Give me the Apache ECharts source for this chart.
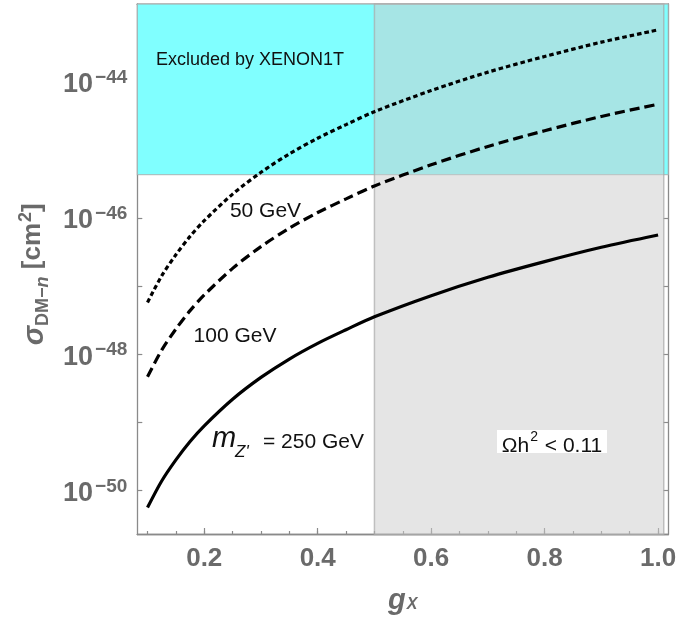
<!DOCTYPE html>
<html>
<head>
<meta charset="utf-8">
<script src="https://cdn.jsdelivr.net/npm/echarts@6/dist/echarts.min.js"></script>
<style>
  html, body { margin: 0; padding: 0; background: #fff; }
  #chart { width: 680px; height: 628px; }
</style>
</head>
<body>
<div id="chart"></div>
<script>
// ---- data ----
const gX = [0.1, 0.125, 0.15, 0.175, 0.2, 0.25, 0.3, 0.35, 0.4, 0.45, 0.5, 0.6, 0.7, 0.8, 0.9, 1.0];
// log10 of sigma_DM-n in cm^2
const logSigma50GeV  = [-47.24, -46.85, -46.54, -46.27, -46.04, -45.65, -45.33, -45.06, -44.83, -44.63, -44.44, -44.13, -43.86, -43.63, -43.42, -43.24];
const logSigma100GeV = [-48.33, -47.94, -47.63, -47.36, -47.13, -46.74, -46.42, -46.15, -45.92, -45.72, -45.53, -45.22, -44.95, -44.72, -44.51, -44.33];
const logSigma250GeV = [-50.25, -49.86, -49.55, -49.28, -49.05, -48.66, -48.34, -48.07, -47.84, -47.64, -47.45, -47.14, -46.87, -46.64, -46.43, -46.25];
const xenonLimitLog = -45.365;        // XENON1T exclusion boundary
const relicRegionG = [0.5, 1.01];     // Omega h^2 < 0.11 region in g_X
const xMajorTicks = [0.2, 0.4, 0.6, 0.8, 1.0];
const xMinorTicks = [0.1, 0.15, 0.2, 0.25, 0.3, 0.35, 0.4, 0.45, 0.5, 0.55, 0.6, 0.65, 0.7, 0.75, 0.8, 0.85, 0.9, 0.95, 1.0];
const yTicks = [-50, -49, -48, -47, -46, -45, -44, -43];
const yLabelTicks = [-50, -48, -46, -44];
const xRange = [0.082, 1.018];
const yRange = [-50.645, -42.86];

const AX = '#8a8a8a';
const LBL = '#6a6a6a';
const FONT = '"Liberation Sans", Arial, Helvetica, sans-serif';

const chart = echarts.init(document.getElementById('chart'), null, { renderer: 'canvas' });

function xAx(grid, pos, ticks, len, labels) {
  return {
    type: 'value', gridIndex: grid, position: pos, min: xRange[0], max: xRange[1],
    axisLine: { show: true, onZero: false, lineStyle: { color: AX, width: 1.3 } },
    axisTick: { show: true, inside: true, length: len, customValues: ticks, lineStyle: { color: AX, width: 1.2 } },
    axisLabel: labels ? {
      show: true, customValues: xMajorTicks, margin: 11.5,
      formatter: v => v.toFixed(1),
      fontFamily: FONT, fontWeight: 'bold', fontSize: 26, lineHeight: 26, color: LBL
    } : { show: false },
    splitLine: { show: false }
  };
}
function yAx(grid, pos, labels, show) {
  return {
    type: 'value', gridIndex: grid, position: pos, min: yRange[0], max: yRange[1], show: show,
    axisLine: { show: true, onZero: false, lineStyle: { color: AX, width: 1.3 } },
    axisTick: { show: true, inside: true, length: 5, customValues: yTicks, lineStyle: { color: AX, width: 1.2 } },
    axisLabel: labels ? {
      show: true, customValues: yLabelTicks, margin: 10,
      formatter: v => '{b|10}{s|\u2212' + Math.abs(v) + '}',
      rich: {
        b: { fontFamily: FONT, fontWeight: 'bold', fontSize: 27, lineHeight: 27, color: LBL, verticalAlign: 'top', padding: [3, 0, 0, 0] },
        s: { fontFamily: FONT, fontWeight: 'bold', fontSize: 19, lineHeight: 19, color: LBL, verticalAlign: 'top', padding: [0, 0, 0, 2] }
      }
    } : { show: false },
    splitLine: { show: false }
  };
}

const gridRect = { left: 137.3, top: 4, right: 11.7, bottom: 93.5, containLabel: false, outerBoundsMode: 'none' };

const xMain = xAx(0, 'bottom', xMajorTicks, 6.5, true);
xMain.name = '{g|g}{x|X}';
xMain.nameLocation = 'middle';
xMain.nameGap = 51.5;
xMain.nameTextStyle = {
  rich: {
    g: { fontFamily: FONT, fontWeight: 'bold', fontStyle: 'italic', fontSize: 29, lineHeight: 29, color: LBL, verticalAlign: 'top' },
    x: { fontFamily: FONT, fontWeight: 'bold', fontStyle: 'italic', fontSize: 16, lineHeight: 16, color: LBL, verticalAlign: 'top', padding: [11, 0, 0, 1] }
  }
};

const yMain = yAx(0, 'left', true, true);
yMain.name = '{sig|\u03c3}{sub|DM\u2212}{subi|n}{t| [cm}{sup|2}{last|]}';
yMain.nameLocation = 'middle';
yMain.nameRotate = 90;
yMain.nameGap = 90.5;
yMain.nameTextStyle = {
  rich: {
    sig: { fontFamily: FONT, fontWeight: 'bold', fontStyle: 'italic', fontSize: 29, lineHeight: 27, color: LBL, verticalAlign: 'top', padding: [3, 0, 0, 0] },
    sub: { fontFamily: FONT, fontWeight: 'bold', fontSize: 18, lineHeight: 18, color: LBL, verticalAlign: 'top', padding: [17, 0, 0, 0] },
    subi: { fontFamily: FONT, fontWeight: 'bold', fontStyle: 'italic', fontSize: 18, lineHeight: 18, color: LBL, verticalAlign: 'top', padding: [17, 0, 0, 0] },
    t: { fontFamily: FONT, fontWeight: 'bold', fontSize: 26, lineHeight: 27, color: LBL, verticalAlign: 'top', padding: [3, 0, 0, 0] },
    last: { fontFamily: FONT, fontWeight: 'bold', fontSize: 26, lineHeight: 27, color: LBL, verticalAlign: 'top', padding: [3, 10, 0, 0] },
    sup: { fontFamily: FONT, fontWeight: 'bold', fontSize: 18, lineHeight: 18, color: LBL, verticalAlign: 'top', padding: [0, 0, 0, 1] }
  }
};

const lineSeries = (name, vals, type) => ({
  name, type: 'line', xAxisIndex: 0, yAxisIndex: 0, z: 3,
  data: gX.map((g, i) => [g, vals[i]]),
  showSymbol: false, smooth: 0.3, clip: true,
  lineStyle: { color: '#000', width: 3.2, type: type, cap: 'butt' }
});

const ann = { fontFamily: FONT, fill: '#111' };

chart.setOption({
  animation: false,
  backgroundColor: '#fff',
  grid: [gridRect, Object.assign({}, gridRect)],
  xAxis: [
    xMain,
    xAx(0, 'top', xMajorTicks, 6.5, false),
    xAx(1, 'bottom', xMinorTicks, 3.5, false),
    xAx(1, 'top', xMinorTicks, 3.5, false)
  ],
  yAxis: [
    yMain,
    yAx(0, 'right', false, true),
    yAx(1, 'left', false, false),
    yAx(1, 'right', false, false)
  ],
  series: [
    {
      name: 'XENON1T', type: 'line', xAxisIndex: 0, yAxisIndex: 0, data: [], z: 1,
      markArea: {
        silent: true, z: 1,
        label: { show: false },
        itemStyle: { color: '#80ffff', borderColor: 'rgba(170,170,170,0.7)', borderWidth: 1.3 },
        data: [[{ xAxis: xRange[0], yAxis: xenonLimitLog }, { xAxis: xRange[1], yAxis: yRange[1] }]]
      }
    },
    {
      name: 'relic', type: 'line', xAxisIndex: 0, yAxisIndex: 0, data: [], z: 2,
      markArea: {
        silent: true, z: 2,
        label: { show: false },
        itemStyle: { color: 'rgba(203,203,203,0.5)', borderColor: 'rgba(170,170,170,0.7)', borderWidth: 1.5 },
        data: [[{ xAxis: relicRegionG[0], yAxis: yRange[0] }, { xAxis: relicRegionG[1], yAxis: yRange[1] }]]
      }
    },
    lineSeries('50 GeV', logSigma50GeV, [4.5, 3]),
    lineSeries('100 GeV', logSigma100GeV, [10, 5]),
    lineSeries('250 GeV', logSigma250GeV, 'solid')
  ],
  graphic: [
    { type: 'text', x: 250, y: 60, z: 10, style: Object.assign({ text: 'Excluded by XENON1T', fontSize: 18, align: 'center', verticalAlign: 'middle', textAlign: 'center', textVerticalAlign: 'middle' }, ann) },
    { type: 'text', x: 265.5, y: 211.7, z: 10, style: Object.assign({ text: '50 GeV', fontSize: 21, align: 'center', verticalAlign: 'middle', textAlign: 'center', textVerticalAlign: 'middle' }, ann) },
    { type: 'text', x: 235, y: 336.7, z: 10, style: Object.assign({ text: '100 GeV', fontSize: 21, align: 'center', verticalAlign: 'middle', textAlign: 'center', textVerticalAlign: 'middle' }, ann) },
    { type: 'text', x: 212, y: 439, z: 10, style: Object.assign({ text: 'm', fontSize: 29, fontStyle: 'italic', align: 'left', verticalAlign: 'middle', textAlign: 'left', textVerticalAlign: 'middle' }, ann) },
    { type: 'text', x: 235, y: 452.5, z: 10, style: Object.assign({ text: "Z'", fontSize: 17, fontStyle: 'italic', align: 'left', verticalAlign: 'middle', textAlign: 'left', textVerticalAlign: 'middle' }, ann) },
    { type: 'text', x: 263, y: 441.8, z: 10, style: Object.assign({ text: '= 250 GeV', fontSize: 21, align: 'left', verticalAlign: 'middle', textAlign: 'left', textVerticalAlign: 'middle' }, ann) },
    { type: 'rect', z: 9, shape: { x: 497, y: 430, width: 110, height: 23 }, style: { fill: '#fff' } },
    { type: 'text', x: 552, y: 430, z: 10, style: {
        text: '{t|\u03a9h}{s|2}{t| < 0.11}', align: 'center', verticalAlign: 'top', textAlign: 'center', textVerticalAlign: 'top',
        rich: {
          t: { fontFamily: FONT, fontSize: 21, lineHeight: 21, fill: '#111', color: '#111', verticalAlign: 'top', padding: [6, 0, 0, 0] },
          s: { fontFamily: FONT, fontSize: 14, lineHeight: 14, fill: '#111', color: '#111', verticalAlign: 'top', padding: [0, 1, 0, 1] }
        }
    } }
  ]
});
</script>
</body>
</html>
